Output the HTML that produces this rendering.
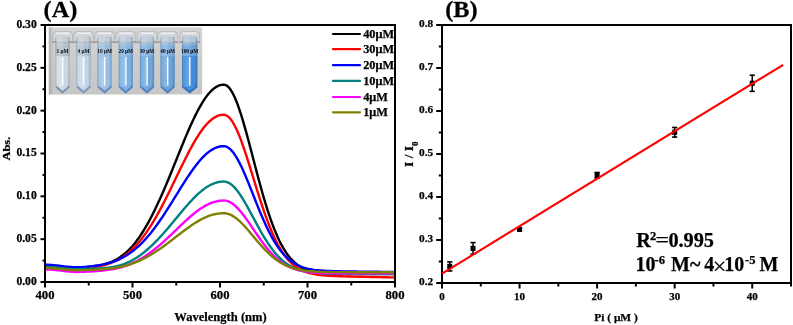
<!DOCTYPE html><html><head><meta charset="utf-8"><style>html,body{margin:0;padding:0;background:#fff;}svg{display:block;will-change:transform;}</style></head><body><svg width="793" height="325" viewBox="0 0 793 325"><rect width="793" height="325" fill="#fff"/><g><defs><linearGradient id="bg" x1="0" y1="0" x2="0" y2="1"><stop offset="0" stop-color="#d7d5d3"/><stop offset="0.5" stop-color="#cdcccb"/><stop offset="1" stop-color="#c6c6c7"/></linearGradient><linearGradient id="bgl" x1="0" y1="0" x2="1" y2="0"><stop offset="0" stop-color="#9a9a9a" stop-opacity="0.6"/><stop offset="1" stop-color="#9a9a9a" stop-opacity="0"/></linearGradient><linearGradient id="shade" x1="0" y1="0" x2="1" y2="0"><stop offset="0" stop-color="#203050" stop-opacity="0.28"/><stop offset="0.15" stop-color="#ffffff" stop-opacity="0.10"/><stop offset="0.45" stop-color="#ffffff" stop-opacity="0.12"/><stop offset="0.8" stop-color="#000000" stop-opacity="0.0"/><stop offset="1" stop-color="#203050" stop-opacity="0.25"/></linearGradient></defs><rect x="48.8" y="27.3" width="153.39999999999998" height="67.2" fill="url(#bg)"/><rect x="48.8" y="27.3" width="5" height="67.2" fill="url(#bgl)"/><linearGradient id="ug0" x1="0" y1="0" x2="0" y2="1"><stop offset="0" stop-color="#c9cdd1"/><stop offset="0.45" stop-color="#b6c5d1"/><stop offset="1" stop-color="#b6c5d1"/></linearGradient><rect x="55.5" y="38" width="14.2" height="19" fill="url(#ug0)"/><path d="M52.8,42.5 L52.8,34.5 Q52.8,31.6 56.1,31.6 L69.1,31.6 Q72.4,31.6 72.4,34.5 L72.4,42.5 Z" fill="#d3d7da" fill-opacity="0.85" stroke="#aab0b5" stroke-width="0.7"/><rect x="56.1" y="32.6" width="13" height="1.2" fill="#f4f6f8"/><rect x="56.0" y="36" width="13.2" height="6.5" fill="#b6c5d1" fill-opacity="0.25"/><path d="M52.1,42.8 L55.6,41.2 M73.1,42.8 L69.6,41.2" fill="none" stroke="#8a9095" stroke-width="1.1"/><path d="M55.5,56 L69.7,56 L69.7,86.5 L62.6,92.5 L55.5,86.5 Z" fill="#d0dce7"/><path d="M56.0,86.5 L62.6,92.3 L69.2,86.5" fill="none" stroke="#7f95ae" stroke-width="2"/><rect x="55.5" y="37" width="14.2" height="50" fill="url(#shade)"/><rect x="62.0" y="57" width="1.4" height="28.5" fill="#ffffff" opacity="0.95"/><rect x="59.1" y="59" width="3" height="0.5" fill="#ffffff" opacity="0.35"/><rect x="59.1" y="61" width="3" height="0.5" fill="#ffffff" opacity="0.35"/><rect x="59.1" y="63" width="3" height="0.5" fill="#ffffff" opacity="0.35"/><rect x="59.1" y="65" width="3" height="0.5" fill="#ffffff" opacity="0.35"/><rect x="59.1" y="67" width="3" height="0.5" fill="#ffffff" opacity="0.35"/><rect x="59.1" y="69" width="3" height="0.5" fill="#ffffff" opacity="0.35"/><rect x="59.1" y="71" width="3" height="0.5" fill="#ffffff" opacity="0.35"/><rect x="59.1" y="73" width="3" height="0.5" fill="#ffffff" opacity="0.35"/><rect x="59.1" y="75" width="3" height="0.5" fill="#ffffff" opacity="0.35"/><rect x="59.1" y="77" width="3" height="0.5" fill="#ffffff" opacity="0.35"/><rect x="59.1" y="79" width="3" height="0.5" fill="#ffffff" opacity="0.35"/><rect x="59.1" y="81" width="3" height="0.5" fill="#ffffff" opacity="0.35"/><rect x="59.1" y="83" width="3" height="0.5" fill="#ffffff" opacity="0.35"/><rect x="59.1" y="85" width="3" height="0.5" fill="#ffffff" opacity="0.35"/><text x="62.6" y="52.6" font-size="5.3" text-anchor="middle" font-family="Liberation Serif" font-weight="bold" fill="#0a0a0a">1 &#956;M</text><linearGradient id="ug1" x1="0" y1="0" x2="0" y2="1"><stop offset="0" stop-color="#c9cdd1"/><stop offset="0.45" stop-color="#b3c7d9"/><stop offset="1" stop-color="#b3c7d9"/></linearGradient><rect x="76.5" y="38" width="14.2" height="19" fill="url(#ug1)"/><path d="M73.8,42.5 L73.8,34.5 Q73.8,31.6 77.1,31.6 L90.1,31.6 Q93.39999999999999,31.6 93.39999999999999,34.5 L93.39999999999999,42.5 Z" fill="#d3d7da" fill-opacity="0.85" stroke="#aab0b5" stroke-width="0.7"/><rect x="77.1" y="32.6" width="13" height="1.2" fill="#f4f6f8"/><rect x="77.0" y="36" width="13.2" height="6.5" fill="#b3c7d9" fill-opacity="0.25"/><path d="M73.1,42.8 L76.6,41.2 M94.1,42.8 L90.6,41.2" fill="none" stroke="#8a9095" stroke-width="1.1"/><path d="M76.5,56 L90.69999999999999,56 L90.69999999999999,86.5 L83.6,92.5 L76.5,86.5 Z" fill="#c4d8ea"/><path d="M77.0,86.5 L83.6,92.3 L90.19999999999999,86.5" fill="none" stroke="#7d97b8" stroke-width="2"/><rect x="76.5" y="37" width="14.2" height="50" fill="url(#shade)"/><rect x="83.0" y="57" width="1.4" height="28.5" fill="#ffffff" opacity="0.95"/><rect x="80.1" y="59" width="3" height="0.5" fill="#ffffff" opacity="0.35"/><rect x="80.1" y="61" width="3" height="0.5" fill="#ffffff" opacity="0.35"/><rect x="80.1" y="63" width="3" height="0.5" fill="#ffffff" opacity="0.35"/><rect x="80.1" y="65" width="3" height="0.5" fill="#ffffff" opacity="0.35"/><rect x="80.1" y="67" width="3" height="0.5" fill="#ffffff" opacity="0.35"/><rect x="80.1" y="69" width="3" height="0.5" fill="#ffffff" opacity="0.35"/><rect x="80.1" y="71" width="3" height="0.5" fill="#ffffff" opacity="0.35"/><rect x="80.1" y="73" width="3" height="0.5" fill="#ffffff" opacity="0.35"/><rect x="80.1" y="75" width="3" height="0.5" fill="#ffffff" opacity="0.35"/><rect x="80.1" y="77" width="3" height="0.5" fill="#ffffff" opacity="0.35"/><rect x="80.1" y="79" width="3" height="0.5" fill="#ffffff" opacity="0.35"/><rect x="80.1" y="81" width="3" height="0.5" fill="#ffffff" opacity="0.35"/><rect x="80.1" y="83" width="3" height="0.5" fill="#ffffff" opacity="0.35"/><rect x="80.1" y="85" width="3" height="0.5" fill="#ffffff" opacity="0.35"/><text x="83.6" y="52.6" font-size="5.3" text-anchor="middle" font-family="Liberation Serif" font-weight="bold" fill="#0a0a0a">4 &#956;M</text><linearGradient id="ug2" x1="0" y1="0" x2="0" y2="1"><stop offset="0" stop-color="#c9cdd1"/><stop offset="0.45" stop-color="#9fbfe0"/><stop offset="1" stop-color="#9fbfe0"/></linearGradient><rect x="97.5" y="38" width="14.2" height="19" fill="url(#ug2)"/><path d="M94.8,42.5 L94.8,34.5 Q94.8,31.6 98.1,31.6 L111.1,31.6 Q114.39999999999999,31.6 114.39999999999999,34.5 L114.39999999999999,42.5 Z" fill="#d3d7da" fill-opacity="0.85" stroke="#aab0b5" stroke-width="0.7"/><rect x="98.1" y="32.6" width="13" height="1.2" fill="#f4f6f8"/><rect x="98.0" y="36" width="13.2" height="6.5" fill="#9fbfe0" fill-opacity="0.25"/><path d="M94.1,42.8 L97.6,41.2 M115.1,42.8 L111.6,41.2" fill="none" stroke="#8a9095" stroke-width="1.1"/><path d="M97.5,56 L111.69999999999999,56 L111.69999999999999,86.5 L104.6,92.5 L97.5,86.5 Z" fill="#9cc2e8"/><path d="M98.0,86.5 L104.6,92.3 L111.19999999999999,86.5" fill="none" stroke="#6a8cbc" stroke-width="2"/><rect x="97.5" y="37" width="14.2" height="50" fill="url(#shade)"/><rect x="104.0" y="57" width="1.4" height="28.5" fill="#ffffff" opacity="0.95"/><rect x="101.1" y="59" width="3" height="0.5" fill="#ffffff" opacity="0.35"/><rect x="101.1" y="61" width="3" height="0.5" fill="#ffffff" opacity="0.35"/><rect x="101.1" y="63" width="3" height="0.5" fill="#ffffff" opacity="0.35"/><rect x="101.1" y="65" width="3" height="0.5" fill="#ffffff" opacity="0.35"/><rect x="101.1" y="67" width="3" height="0.5" fill="#ffffff" opacity="0.35"/><rect x="101.1" y="69" width="3" height="0.5" fill="#ffffff" opacity="0.35"/><rect x="101.1" y="71" width="3" height="0.5" fill="#ffffff" opacity="0.35"/><rect x="101.1" y="73" width="3" height="0.5" fill="#ffffff" opacity="0.35"/><rect x="101.1" y="75" width="3" height="0.5" fill="#ffffff" opacity="0.35"/><rect x="101.1" y="77" width="3" height="0.5" fill="#ffffff" opacity="0.35"/><rect x="101.1" y="79" width="3" height="0.5" fill="#ffffff" opacity="0.35"/><rect x="101.1" y="81" width="3" height="0.5" fill="#ffffff" opacity="0.35"/><rect x="101.1" y="83" width="3" height="0.5" fill="#ffffff" opacity="0.35"/><rect x="101.1" y="85" width="3" height="0.5" fill="#ffffff" opacity="0.35"/><text x="104.6" y="52.6" font-size="5.3" text-anchor="middle" font-family="Liberation Serif" font-weight="bold" fill="#0a0a0a">10 &#956;M</text><linearGradient id="ug3" x1="0" y1="0" x2="0" y2="1"><stop offset="0" stop-color="#c9cdd1"/><stop offset="0.45" stop-color="#8cb8e3"/><stop offset="1" stop-color="#8cb8e3"/></linearGradient><rect x="118.7" y="38" width="14.2" height="19" fill="url(#ug3)"/><path d="M116.0,42.5 L116.0,34.5 Q116.0,31.6 119.3,31.6 L132.3,31.6 Q135.6,31.6 135.6,34.5 L135.6,42.5 Z" fill="#d3d7da" fill-opacity="0.85" stroke="#aab0b5" stroke-width="0.7"/><rect x="119.3" y="32.6" width="13" height="1.2" fill="#f4f6f8"/><rect x="119.2" y="36" width="13.2" height="6.5" fill="#8cb8e3" fill-opacity="0.25"/><path d="M115.3,42.8 L118.8,41.2 M136.3,42.8 L132.8,41.2" fill="none" stroke="#8a9095" stroke-width="1.1"/><path d="M118.7,56 L132.9,56 L132.9,86.5 L125.8,92.5 L118.7,86.5 Z" fill="#7cb2e4"/><path d="M119.2,86.5 L125.8,92.3 L132.4,86.5" fill="none" stroke="#5a88c4" stroke-width="2"/><rect x="118.7" y="37" width="14.2" height="50" fill="url(#shade)"/><rect x="125.2" y="57" width="1.4" height="28.5" fill="#ffffff" opacity="0.95"/><rect x="122.3" y="59" width="3" height="0.5" fill="#ffffff" opacity="0.35"/><rect x="122.3" y="61" width="3" height="0.5" fill="#ffffff" opacity="0.35"/><rect x="122.3" y="63" width="3" height="0.5" fill="#ffffff" opacity="0.35"/><rect x="122.3" y="65" width="3" height="0.5" fill="#ffffff" opacity="0.35"/><rect x="122.3" y="67" width="3" height="0.5" fill="#ffffff" opacity="0.35"/><rect x="122.3" y="69" width="3" height="0.5" fill="#ffffff" opacity="0.35"/><rect x="122.3" y="71" width="3" height="0.5" fill="#ffffff" opacity="0.35"/><rect x="122.3" y="73" width="3" height="0.5" fill="#ffffff" opacity="0.35"/><rect x="122.3" y="75" width="3" height="0.5" fill="#ffffff" opacity="0.35"/><rect x="122.3" y="77" width="3" height="0.5" fill="#ffffff" opacity="0.35"/><rect x="122.3" y="79" width="3" height="0.5" fill="#ffffff" opacity="0.35"/><rect x="122.3" y="81" width="3" height="0.5" fill="#ffffff" opacity="0.35"/><rect x="122.3" y="83" width="3" height="0.5" fill="#ffffff" opacity="0.35"/><rect x="122.3" y="85" width="3" height="0.5" fill="#ffffff" opacity="0.35"/><text x="125.8" y="52.6" font-size="5.3" text-anchor="middle" font-family="Liberation Serif" font-weight="bold" fill="#0a0a0a">20 &#956;M</text><linearGradient id="ug4" x1="0" y1="0" x2="0" y2="1"><stop offset="0" stop-color="#c9cdd1"/><stop offset="0.45" stop-color="#88b5e2"/><stop offset="1" stop-color="#88b5e2"/></linearGradient><rect x="139.9" y="38" width="14.2" height="19" fill="url(#ug4)"/><path d="M137.2,42.5 L137.2,34.5 Q137.2,31.6 140.5,31.6 L153.5,31.6 Q156.8,31.6 156.8,34.5 L156.8,42.5 Z" fill="#d3d7da" fill-opacity="0.85" stroke="#aab0b5" stroke-width="0.7"/><rect x="140.5" y="32.6" width="13" height="1.2" fill="#f4f6f8"/><rect x="140.4" y="36" width="13.2" height="6.5" fill="#88b5e2" fill-opacity="0.25"/><path d="M136.5,42.8 L140.0,41.2 M157.5,42.8 L154.0,41.2" fill="none" stroke="#8a9095" stroke-width="1.1"/><path d="M139.9,56 L154.1,56 L154.1,86.5 L147.0,92.5 L139.9,86.5 Z" fill="#70a9de"/><path d="M140.4,86.5 L147.0,92.3 L153.6,86.5" fill="none" stroke="#5684c2" stroke-width="2"/><rect x="139.9" y="37" width="14.2" height="50" fill="url(#shade)"/><rect x="146.4" y="57" width="1.4" height="28.5" fill="#ffffff" opacity="0.95"/><rect x="143.5" y="59" width="3" height="0.5" fill="#ffffff" opacity="0.35"/><rect x="143.5" y="61" width="3" height="0.5" fill="#ffffff" opacity="0.35"/><rect x="143.5" y="63" width="3" height="0.5" fill="#ffffff" opacity="0.35"/><rect x="143.5" y="65" width="3" height="0.5" fill="#ffffff" opacity="0.35"/><rect x="143.5" y="67" width="3" height="0.5" fill="#ffffff" opacity="0.35"/><rect x="143.5" y="69" width="3" height="0.5" fill="#ffffff" opacity="0.35"/><rect x="143.5" y="71" width="3" height="0.5" fill="#ffffff" opacity="0.35"/><rect x="143.5" y="73" width="3" height="0.5" fill="#ffffff" opacity="0.35"/><rect x="143.5" y="75" width="3" height="0.5" fill="#ffffff" opacity="0.35"/><rect x="143.5" y="77" width="3" height="0.5" fill="#ffffff" opacity="0.35"/><rect x="143.5" y="79" width="3" height="0.5" fill="#ffffff" opacity="0.35"/><rect x="143.5" y="81" width="3" height="0.5" fill="#ffffff" opacity="0.35"/><rect x="143.5" y="83" width="3" height="0.5" fill="#ffffff" opacity="0.35"/><rect x="143.5" y="85" width="3" height="0.5" fill="#ffffff" opacity="0.35"/><text x="147.0" y="52.6" font-size="5.3" text-anchor="middle" font-family="Liberation Serif" font-weight="bold" fill="#0a0a0a">30 &#956;M</text><linearGradient id="ug5" x1="0" y1="0" x2="0" y2="1"><stop offset="0" stop-color="#c9cdd1"/><stop offset="0.45" stop-color="#84b2e2"/><stop offset="1" stop-color="#84b2e2"/></linearGradient><rect x="160.5" y="38" width="14.2" height="19" fill="url(#ug5)"/><path d="M157.79999999999998,42.5 L157.79999999999998,34.5 Q157.79999999999998,31.6 161.1,31.6 L174.1,31.6 Q177.4,31.6 177.4,34.5 L177.4,42.5 Z" fill="#d3d7da" fill-opacity="0.85" stroke="#aab0b5" stroke-width="0.7"/><rect x="161.1" y="32.6" width="13" height="1.2" fill="#f4f6f8"/><rect x="161.0" y="36" width="13.2" height="6.5" fill="#84b2e2" fill-opacity="0.25"/><path d="M157.1,42.8 L160.6,41.2 M178.1,42.8 L174.6,41.2" fill="none" stroke="#8a9095" stroke-width="1.1"/><path d="M160.5,56 L174.7,56 L174.7,86.5 L167.6,92.5 L160.5,86.5 Z" fill="#6ba5dc"/><path d="M161.0,86.5 L167.6,92.3 L174.2,86.5" fill="none" stroke="#5482c2" stroke-width="2"/><rect x="160.5" y="37" width="14.2" height="50" fill="url(#shade)"/><rect x="167.0" y="57" width="1.4" height="28.5" fill="#ffffff" opacity="0.95"/><rect x="164.1" y="59" width="3" height="0.5" fill="#ffffff" opacity="0.35"/><rect x="164.1" y="61" width="3" height="0.5" fill="#ffffff" opacity="0.35"/><rect x="164.1" y="63" width="3" height="0.5" fill="#ffffff" opacity="0.35"/><rect x="164.1" y="65" width="3" height="0.5" fill="#ffffff" opacity="0.35"/><rect x="164.1" y="67" width="3" height="0.5" fill="#ffffff" opacity="0.35"/><rect x="164.1" y="69" width="3" height="0.5" fill="#ffffff" opacity="0.35"/><rect x="164.1" y="71" width="3" height="0.5" fill="#ffffff" opacity="0.35"/><rect x="164.1" y="73" width="3" height="0.5" fill="#ffffff" opacity="0.35"/><rect x="164.1" y="75" width="3" height="0.5" fill="#ffffff" opacity="0.35"/><rect x="164.1" y="77" width="3" height="0.5" fill="#ffffff" opacity="0.35"/><rect x="164.1" y="79" width="3" height="0.5" fill="#ffffff" opacity="0.35"/><rect x="164.1" y="81" width="3" height="0.5" fill="#ffffff" opacity="0.35"/><rect x="164.1" y="83" width="3" height="0.5" fill="#ffffff" opacity="0.35"/><rect x="164.1" y="85" width="3" height="0.5" fill="#ffffff" opacity="0.35"/><text x="167.6" y="52.6" font-size="5.3" text-anchor="middle" font-family="Liberation Serif" font-weight="bold" fill="#0a0a0a">40 &#956;M</text><linearGradient id="ug6" x1="0" y1="0" x2="0" y2="1"><stop offset="0" stop-color="#c9cdd1"/><stop offset="0.45" stop-color="#6ca4dc"/><stop offset="1" stop-color="#6ca4dc"/></linearGradient><rect x="182.0" y="38" width="15.4" height="19" fill="url(#ug6)"/><path d="M179.89999999999998,42.5 L179.89999999999998,34.5 Q179.89999999999998,31.6 183.2,31.6 L196.2,31.6 Q199.5,31.6 199.5,34.5 L199.5,42.5 Z" fill="#d3d7da" fill-opacity="0.85" stroke="#aab0b5" stroke-width="0.7"/><rect x="183.2" y="32.6" width="13" height="1.2" fill="#f4f6f8"/><rect x="182.5" y="36" width="14.4" height="6.5" fill="#6ca4dc" fill-opacity="0.25"/><path d="M179.2,42.8 L182.7,41.2 M200.2,42.8 L196.7,41.2" fill="none" stroke="#8a9095" stroke-width="1.1"/><path d="M182.0,56 L197.39999999999998,56 L197.39999999999998,86.5 L189.7,92.5 L182.0,86.5 Z" fill="#448edb"/><path d="M182.5,86.5 L189.7,92.3 L196.89999999999998,86.5" fill="none" stroke="#3570bf" stroke-width="2"/><rect x="182.0" y="37" width="15.4" height="50" fill="url(#shade)"/><rect x="189.1" y="57" width="1.4" height="28.5" fill="#ffffff" opacity="0.95"/><rect x="186.2" y="59" width="3" height="0.5" fill="#ffffff" opacity="0.35"/><rect x="186.2" y="61" width="3" height="0.5" fill="#ffffff" opacity="0.35"/><rect x="186.2" y="63" width="3" height="0.5" fill="#ffffff" opacity="0.35"/><rect x="186.2" y="65" width="3" height="0.5" fill="#ffffff" opacity="0.35"/><rect x="186.2" y="67" width="3" height="0.5" fill="#ffffff" opacity="0.35"/><rect x="186.2" y="69" width="3" height="0.5" fill="#ffffff" opacity="0.35"/><rect x="186.2" y="71" width="3" height="0.5" fill="#ffffff" opacity="0.35"/><rect x="186.2" y="73" width="3" height="0.5" fill="#ffffff" opacity="0.35"/><rect x="186.2" y="75" width="3" height="0.5" fill="#ffffff" opacity="0.35"/><rect x="186.2" y="77" width="3" height="0.5" fill="#ffffff" opacity="0.35"/><rect x="186.2" y="79" width="3" height="0.5" fill="#ffffff" opacity="0.35"/><rect x="186.2" y="81" width="3" height="0.5" fill="#ffffff" opacity="0.35"/><rect x="186.2" y="83" width="3" height="0.5" fill="#ffffff" opacity="0.35"/><rect x="186.2" y="85" width="3" height="0.5" fill="#ffffff" opacity="0.35"/><text x="189.7" y="52.6" font-size="5.3" text-anchor="middle" font-family="Liberation Serif" font-weight="bold" fill="#0a0a0a">100 &#956;M</text></g><path d="M45.00,265.30 L46.75,265.31 L48.50,265.38 L50.25,265.48 L52.00,265.63 L53.75,265.80 L55.50,266.00 L57.25,266.21 L59.00,266.44 L60.75,266.67 L62.50,266.90 L64.25,267.13 L66.00,267.34 L67.75,267.53 L69.50,267.70 L71.25,267.83 L73.00,267.93 L74.75,267.98 L76.50,267.97 L78.25,267.91 L80.00,267.78 L81.75,267.61 L83.50,267.45 L85.25,267.29 L87.00,267.11 L88.75,266.93 L90.50,266.74 L92.25,266.52 L94.00,266.29 L95.75,266.03 L97.50,265.74 L99.25,265.42 L101.00,265.05 L102.75,264.65 L104.50,264.19 L106.25,263.68 L108.00,263.11 L109.75,262.48 L111.50,261.78 L113.25,261.00 L115.00,260.14 L116.75,259.20 L118.50,258.17 L120.25,257.04 L122.00,255.81 L123.75,254.47 L125.50,253.02 L127.25,251.45 L129.00,249.76 L130.75,247.94 L132.50,246.00 L134.25,243.91 L136.00,241.69 L137.75,239.33 L139.50,236.85 L141.25,234.24 L143.00,231.51 L144.75,228.66 L146.50,225.68 L148.25,222.58 L150.00,219.37 L151.75,216.03 L153.50,212.58 L155.25,209.02 L157.00,205.35 L158.75,201.58 L160.50,197.71 L162.25,193.76 L164.00,189.72 L165.75,185.61 L167.50,181.44 L169.25,177.21 L171.00,172.93 L172.75,168.62 L174.50,164.29 L176.25,159.94 L178.00,155.60 L179.75,151.27 L181.50,146.96 L183.25,142.70 L185.00,138.49 L186.75,134.35 L188.50,130.29 L190.25,126.32 L192.00,122.47 L193.75,118.74 L195.50,115.14 L197.25,111.69 L199.00,108.41 L200.75,105.30 L202.50,102.37 L204.25,99.65 L206.00,97.12 L207.75,94.81 L209.50,92.73 L211.25,90.87 L213.00,89.25 L214.75,87.87 L216.50,86.74 L218.25,85.85 L220.00,85.20 L221.75,84.80 L223.50,84.64 L225.25,84.85 L227.00,85.74 L228.75,87.30 L230.50,89.52 L232.25,92.34 L234.00,95.76 L235.75,99.71 L237.50,104.17 L239.25,109.09 L241.00,114.42 L242.75,120.10 L244.50,126.09 L246.25,132.33 L248.00,138.77 L249.75,145.35 L251.50,152.02 L253.25,158.74 L255.00,165.46 L256.75,172.13 L258.50,178.71 L260.25,185.16 L262.00,191.45 L263.75,197.56 L265.50,203.44 L267.25,209.09 L269.00,214.49 L270.75,219.61 L272.50,224.46 L274.25,229.03 L276.00,233.31 L277.75,237.30 L279.50,241.01 L281.25,244.44 L283.00,247.60 L284.75,250.49 L286.50,253.14 L288.25,255.55 L290.00,257.73 L291.75,259.70 L293.50,261.47 L295.25,263.05 L297.00,264.47 L298.75,265.72 L300.50,266.84 L302.25,267.82 L304.00,268.68 L305.75,269.43 L307.50,270.09 L309.25,270.66 L311.00,271.16 L312.75,271.59 L314.50,271.96 L316.25,272.27 L318.00,272.54 L319.75,272.77 L321.50,272.97 L323.25,273.14 L325.00,273.28 L326.75,273.39 L328.50,273.49 L330.25,273.58 L332.00,273.65 L333.75,273.71 L335.50,273.76 L337.25,273.80 L339.00,273.83 L340.75,273.86 L342.50,273.89 L344.25,273.91 L346.00,273.93 L347.75,273.94 L349.50,273.95 L351.25,273.97 L353.00,273.98 L354.75,273.99 L356.50,273.99 L358.25,274.00 L360.00,274.01 L361.75,274.02 L363.50,274.02 L365.25,274.03 L367.00,274.03 L368.75,274.04 L370.50,274.05 L372.25,274.05 L374.00,274.06 L375.75,274.06 L377.50,274.07 L379.25,274.07 L381.00,274.08 L382.75,274.08 L384.50,274.09 L386.25,274.09 L388.00,274.10 L389.75,274.10 L391.50,274.11 L393.25,274.11 L395.00,274.12" fill="none" stroke="#000000" stroke-width="2.4" stroke-linejoin="round"/><path d="M45.00,265.72 L46.75,265.77 L48.50,265.85 L50.25,265.97 L52.00,266.11 L53.75,266.28 L55.50,266.47 L57.25,266.67 L59.00,266.88 L60.75,267.10 L62.50,267.31 L64.25,267.52 L66.00,267.72 L67.75,267.91 L69.50,268.07 L71.25,268.20 L73.00,268.31 L74.75,268.37 L76.50,268.40 L78.25,268.37 L80.00,268.29 L81.75,268.18 L83.50,268.06 L85.25,267.93 L87.00,267.78 L88.75,267.62 L90.50,267.44 L92.25,267.23 L94.00,267.01 L95.75,266.75 L97.50,266.47 L99.25,266.15 L101.00,265.80 L102.75,265.41 L104.50,264.97 L106.25,264.49 L108.00,263.95 L109.75,263.37 L111.50,262.72 L113.25,262.01 L115.00,261.24 L116.75,260.40 L118.50,259.48 L120.25,258.49 L122.00,257.41 L123.75,256.25 L125.50,255.01 L127.25,253.67 L129.00,252.23 L130.75,250.69 L132.50,249.06 L134.25,247.31 L136.00,245.47 L137.75,243.51 L139.50,241.45 L141.25,239.28 L143.00,237.02 L144.75,234.64 L146.50,232.17 L148.25,229.59 L150.00,226.91 L151.75,224.13 L153.50,221.26 L155.25,218.29 L157.00,215.23 L158.75,212.09 L160.50,208.87 L162.25,205.57 L164.00,202.20 L165.75,198.77 L167.50,195.28 L169.25,191.75 L171.00,188.18 L172.75,184.58 L174.50,180.97 L176.25,177.34 L178.00,173.71 L179.75,170.09 L181.50,166.50 L183.25,162.94 L185.00,159.43 L186.75,155.97 L188.50,152.58 L190.25,149.28 L192.00,146.06 L193.75,142.95 L195.50,139.95 L197.25,137.08 L199.00,134.35 L200.75,131.76 L202.50,129.33 L204.25,127.06 L206.00,124.97 L207.75,123.05 L209.50,121.33 L211.25,119.80 L213.00,118.46 L214.75,117.33 L216.50,116.41 L218.25,115.69 L220.00,115.18 L221.75,114.88 L223.50,114.77 L225.25,114.97 L227.00,115.76 L228.75,117.11 L230.50,119.00 L232.25,121.42 L234.00,124.32 L235.75,127.69 L237.50,131.48 L239.25,135.65 L241.00,140.17 L242.75,144.98 L244.50,150.06 L246.25,155.35 L248.00,160.80 L249.75,166.38 L251.50,172.03 L253.25,177.72 L255.00,183.41 L256.75,189.06 L258.50,194.63 L260.25,200.10 L262.00,205.43 L263.75,210.60 L265.50,215.59 L267.25,220.38 L269.00,224.96 L270.75,229.31 L272.50,233.42 L274.25,237.30 L276.00,240.93 L277.75,244.33 L279.50,247.48 L281.25,250.40 L283.00,253.09 L284.75,255.57 L286.50,257.83 L288.25,259.89 L290.00,261.76 L291.75,263.45 L293.50,264.97 L295.25,266.34 L297.00,267.56 L298.75,268.65 L300.50,269.62 L302.25,270.47 L304.00,271.23 L305.75,271.90 L307.50,272.49 L309.25,273.00 L311.00,273.45 L312.75,273.84 L314.50,274.18 L316.25,274.48 L318.00,274.74 L319.75,274.97 L321.50,275.16 L323.25,275.33 L325.00,275.48 L326.75,275.62 L328.50,275.73 L330.25,275.83 L332.00,275.92 L333.75,276.01 L335.50,276.08 L337.25,276.15 L339.00,276.21 L340.75,276.26 L342.50,276.31 L344.25,276.36 L346.00,276.41 L347.75,276.46 L349.50,276.50 L351.25,276.54 L353.00,276.58 L354.75,276.62 L356.50,276.66 L358.25,276.70 L360.00,276.73 L361.75,276.77 L363.50,276.81 L365.25,276.85 L367.00,276.88 L368.75,276.92 L370.50,276.95 L372.25,276.99 L374.00,277.03 L375.75,277.06 L377.50,277.10 L379.25,277.14 L381.00,277.17 L382.75,277.21 L384.50,277.24 L386.25,277.28 L388.00,277.32 L389.75,277.35 L391.50,277.39 L393.25,277.42 L395.00,277.46" fill="none" stroke="#ff0000" stroke-width="2.4" stroke-linejoin="round"/><path d="M45.00,264.70 L46.75,264.73 L48.50,264.80 L50.25,264.90 L52.00,265.03 L53.75,265.19 L55.50,265.37 L57.25,265.56 L59.00,265.76 L60.75,265.97 L62.50,266.18 L64.25,266.38 L66.00,266.57 L67.75,266.75 L69.50,266.92 L71.25,267.05 L73.00,267.16 L74.75,267.23 L76.50,267.26 L78.25,267.25 L80.00,267.18 L81.75,267.08 L83.50,266.97 L85.25,266.85 L87.00,266.71 L88.75,266.56 L90.50,266.40 L92.25,266.21 L94.00,266.00 L95.75,265.77 L97.50,265.51 L99.25,265.23 L101.00,264.92 L102.75,264.57 L104.50,264.19 L106.25,263.77 L108.00,263.32 L109.75,262.82 L111.50,262.28 L113.25,261.68 L115.00,261.04 L116.75,260.35 L118.50,259.60 L120.25,258.79 L122.00,257.91 L123.75,256.98 L125.50,255.98 L127.25,254.90 L129.00,253.76 L130.75,252.54 L132.50,251.24 L134.25,249.87 L136.00,248.42 L137.75,246.88 L139.50,245.27 L141.25,243.58 L143.00,241.80 L144.75,239.94 L146.50,238.01 L148.25,235.99 L150.00,233.90 L151.75,231.72 L153.50,229.48 L155.25,227.15 L157.00,224.76 L158.75,222.31 L160.50,219.79 L162.25,217.21 L164.00,214.58 L165.75,211.90 L167.50,209.17 L169.25,206.41 L171.00,203.62 L172.75,200.81 L174.50,197.98 L176.25,195.15 L178.00,192.32 L179.75,189.49 L181.50,186.68 L183.25,183.90 L185.00,181.16 L186.75,178.45 L188.50,175.81 L190.25,173.22 L192.00,170.71 L193.75,168.28 L195.50,165.93 L197.25,163.69 L199.00,161.55 L200.75,159.52 L202.50,157.62 L204.25,155.85 L206.00,154.21 L207.75,152.71 L209.50,151.35 L211.25,150.15 L213.00,149.11 L214.75,148.22 L216.50,147.49 L218.25,146.92 L220.00,146.51 L221.75,146.27 L223.50,146.17 L225.25,146.32 L227.00,146.93 L228.75,147.97 L230.50,149.43 L232.25,151.31 L234.00,153.56 L235.75,156.17 L237.50,159.11 L239.25,162.35 L241.00,165.86 L242.75,169.60 L244.50,173.55 L246.25,177.66 L248.00,181.89 L249.75,186.23 L251.50,190.62 L253.25,195.04 L255.00,199.47 L256.75,203.86 L258.50,208.19 L260.25,212.43 L262.00,216.58 L263.75,220.60 L265.50,224.47 L267.25,228.19 L269.00,231.75 L270.75,235.13 L272.50,238.32 L274.25,241.33 L276.00,244.15 L277.75,246.79 L279.50,249.24 L281.25,251.50 L283.00,253.59 L284.75,255.51 L286.50,257.26 L288.25,258.85 L290.00,260.30 L291.75,261.60 L293.50,262.78 L295.25,263.84 L297.00,264.78 L298.75,265.62 L300.50,266.36 L302.25,267.02 L304.00,267.60 L305.75,268.11 L307.50,268.56 L309.25,268.95 L311.00,269.29 L312.75,269.59 L314.50,269.85 L316.25,270.07 L318.00,270.26 L319.75,270.43 L321.50,270.57 L323.25,270.70 L325.00,270.81 L326.75,270.90 L328.50,270.98 L330.25,271.05 L332.00,271.11 L333.75,271.17 L335.50,271.21 L337.25,271.26 L339.00,271.29 L340.75,271.33 L342.50,271.36 L344.25,271.39 L346.00,271.42 L347.75,271.44 L349.50,271.47 L351.25,271.49 L353.00,271.51 L354.75,271.53 L356.50,271.55 L358.25,271.58 L360.00,271.60 L361.75,271.62 L363.50,271.64 L365.25,271.65 L367.00,271.67 L368.75,271.69 L370.50,271.71 L372.25,271.73 L374.00,271.75 L375.75,271.77 L377.50,271.79 L379.25,271.81 L381.00,271.83 L382.75,271.84 L384.50,271.86 L386.25,271.88 L388.00,271.90 L389.75,271.92 L391.50,271.94 L393.25,271.96 L395.00,271.98" fill="none" stroke="#0000ff" stroke-width="2.4" stroke-linejoin="round"/><path d="M45.00,267.01 L46.75,267.02 L48.50,267.07 L50.25,267.16 L52.00,267.27 L53.75,267.40 L55.50,267.55 L57.25,267.72 L59.00,267.89 L60.75,268.07 L62.50,268.26 L64.25,268.44 L66.00,268.61 L67.75,268.77 L69.50,268.91 L71.25,269.03 L73.00,269.13 L74.75,269.19 L76.50,269.22 L78.25,269.21 L80.00,269.15 L81.75,269.07 L83.50,269.01 L85.25,268.95 L87.00,268.89 L88.75,268.84 L90.50,268.79 L92.25,268.73 L94.00,268.67 L95.75,268.61 L97.50,268.53 L99.25,268.44 L101.00,268.33 L102.75,268.20 L104.50,268.06 L106.25,267.88 L108.00,267.68 L109.75,267.45 L111.50,267.19 L113.25,266.88 L115.00,266.54 L116.75,266.15 L118.50,265.72 L120.25,265.23 L122.00,264.69 L123.75,264.10 L125.50,263.44 L127.25,262.72 L129.00,261.94 L130.75,261.09 L132.50,260.16 L134.25,259.16 L136.00,258.09 L137.75,256.94 L139.50,255.73 L141.25,254.46 L143.00,253.13 L144.75,251.74 L146.50,250.28 L148.25,248.77 L150.00,247.21 L151.75,245.58 L153.50,243.90 L155.25,242.16 L157.00,240.37 L158.75,238.53 L160.50,236.65 L162.25,234.72 L164.00,232.75 L165.75,230.75 L167.50,228.71 L169.25,226.65 L171.00,224.57 L172.75,222.47 L174.50,220.35 L176.25,218.24 L178.00,216.12 L179.75,214.01 L181.50,211.91 L183.25,209.83 L185.00,207.78 L186.75,205.76 L188.50,203.78 L190.25,201.85 L192.00,199.97 L193.75,198.15 L195.50,196.40 L197.25,194.71 L199.00,193.11 L200.75,191.60 L202.50,190.17 L204.25,188.84 L206.00,187.61 L207.75,186.48 L209.50,185.47 L211.25,184.56 L213.00,183.77 L214.75,183.10 L216.50,182.54 L218.25,182.11 L220.00,181.79 L221.75,181.60 L223.50,181.52 L225.25,181.62 L227.00,182.05 L228.75,182.82 L230.50,183.89 L232.25,185.27 L234.00,186.93 L235.75,188.86 L237.50,191.03 L239.25,193.43 L241.00,196.02 L242.75,198.79 L244.50,201.71 L246.25,204.75 L248.00,207.88 L249.75,211.09 L251.50,214.34 L253.25,217.62 L255.00,220.89 L256.75,224.14 L258.50,227.34 L260.25,230.49 L262.00,233.55 L263.75,236.53 L265.50,239.39 L267.25,242.15 L269.00,244.77 L270.75,247.27 L272.50,249.63 L274.25,251.86 L276.00,253.94 L277.75,255.89 L279.50,257.69 L281.25,259.36 L283.00,260.90 L284.75,262.31 L286.50,263.60 L288.25,264.77 L290.00,265.84 L291.75,266.80 L293.50,267.66 L295.25,268.43 L297.00,269.12 L298.75,269.73 L300.50,270.27 L302.25,270.75 L304.00,271.17 L305.75,271.53 L307.50,271.85 L309.25,272.13 L311.00,272.37 L312.75,272.58 L314.50,272.76 L316.25,272.91 L318.00,273.04 L319.75,273.15 L321.50,273.25 L323.25,273.33 L325.00,273.40 L326.75,273.45 L328.50,273.50 L330.25,273.54 L332.00,273.58 L333.75,273.60 L335.50,273.63 L337.25,273.65 L339.00,273.66 L340.75,273.68 L342.50,273.69 L344.25,273.70 L346.00,273.70 L347.75,273.71 L349.50,273.72 L351.25,273.72 L353.00,273.73 L354.75,273.73 L356.50,273.73 L358.25,273.74 L360.00,273.74 L361.75,273.74 L363.50,273.74 L365.25,273.75 L367.00,273.75 L368.75,273.75 L370.50,273.75 L372.25,273.75 L374.00,273.76 L375.75,273.76 L377.50,273.76 L379.25,273.76 L381.00,273.76 L382.75,273.76 L384.50,273.77 L386.25,273.77 L388.00,273.77 L389.75,273.77 L391.50,273.77 L393.25,273.77 L395.00,273.78" fill="none" stroke="#008080" stroke-width="2.4" stroke-linejoin="round"/><path d="M45.00,269.49 L46.75,269.51 L48.50,269.56 L50.25,269.64 L52.00,269.76 L53.75,269.90 L55.50,270.06 L57.25,270.24 L59.00,270.43 L60.75,270.63 L62.50,270.83 L64.25,271.03 L66.00,271.22 L67.75,271.40 L69.50,271.56 L71.25,271.70 L73.00,271.81 L74.75,271.89 L76.50,271.93 L78.25,271.94 L80.00,271.89 L81.75,271.82 L83.50,271.75 L85.25,271.68 L87.00,271.60 L88.75,271.52 L90.50,271.44 L92.25,271.35 L94.00,271.24 L95.75,271.13 L97.50,271.01 L99.25,270.87 L101.00,270.72 L102.75,270.54 L104.50,270.35 L106.25,270.14 L108.00,269.91 L109.75,269.65 L111.50,269.37 L113.25,269.05 L115.00,268.71 L116.75,268.33 L118.50,267.92 L120.25,267.47 L122.00,266.98 L123.75,266.45 L125.50,265.88 L127.25,265.26 L129.00,264.60 L130.75,263.89 L132.50,263.13 L134.25,262.32 L136.00,261.45 L137.75,260.54 L139.50,259.57 L141.25,258.56 L143.00,257.50 L144.75,256.39 L146.50,255.24 L148.25,254.04 L150.00,252.79 L151.75,251.49 L153.50,250.16 L155.25,248.77 L157.00,247.35 L158.75,245.89 L160.50,244.39 L162.25,242.86 L164.00,241.30 L165.75,239.70 L167.50,238.08 L169.25,236.45 L171.00,234.79 L172.75,233.12 L174.50,231.44 L176.25,229.76 L178.00,228.07 L179.75,226.39 L181.50,224.73 L183.25,223.07 L185.00,221.44 L186.75,219.84 L188.50,218.26 L190.25,216.73 L192.00,215.23 L193.75,213.79 L195.50,212.39 L197.25,211.06 L199.00,209.78 L200.75,208.58 L202.50,207.44 L204.25,206.38 L206.00,205.40 L207.75,204.50 L209.50,203.69 L211.25,202.97 L213.00,202.34 L214.75,201.80 L216.50,201.36 L218.25,201.01 L220.00,200.75 L221.75,200.59 L223.50,200.53 L225.25,200.60 L227.00,200.94 L228.75,201.54 L230.50,202.39 L232.25,203.48 L234.00,204.79 L235.75,206.31 L237.50,208.03 L239.25,209.92 L241.00,211.97 L242.75,214.16 L244.50,216.47 L246.25,218.87 L248.00,221.35 L249.75,223.89 L251.50,226.46 L253.25,229.05 L255.00,231.64 L256.75,234.21 L258.50,236.75 L260.25,239.24 L262.00,241.66 L263.75,244.01 L265.50,246.28 L267.25,248.46 L269.00,250.54 L270.75,252.51 L272.50,254.38 L274.25,256.14 L276.00,257.78 L277.75,259.32 L279.50,260.75 L281.25,262.06 L283.00,263.28 L284.75,264.39 L286.50,265.41 L288.25,266.33 L290.00,267.17 L291.75,267.93 L293.50,268.60 L295.25,269.21 L297.00,269.75 L298.75,270.23 L300.50,270.66 L302.25,271.03 L304.00,271.36 L305.75,271.64 L307.50,271.89 L309.25,272.11 L311.00,272.29 L312.75,272.45 L314.50,272.59 L316.25,272.71 L318.00,272.81 L319.75,272.89 L321.50,272.96 L323.25,273.02 L325.00,273.07 L326.75,273.11 L328.50,273.14 L330.25,273.17 L332.00,273.19 L333.75,273.21 L335.50,273.22 L337.25,273.23 L339.00,273.24 L340.75,273.25 L342.50,273.25 L344.25,273.25 L346.00,273.25 L347.75,273.25 L349.50,273.25 L351.25,273.25 L353.00,273.25 L354.75,273.25 L356.50,273.25 L358.25,273.24 L360.00,273.24 L361.75,273.24 L363.50,273.24 L365.25,273.23 L367.00,273.23 L368.75,273.23 L370.50,273.22 L372.25,273.22 L374.00,273.22 L375.75,273.21 L377.50,273.21 L379.25,273.21 L381.00,273.20 L382.75,273.20 L384.50,273.20 L386.25,273.19 L388.00,273.19 L389.75,273.19 L391.50,273.18 L393.25,273.18 L395.00,273.18" fill="none" stroke="#ff00ff" stroke-width="2.4" stroke-linejoin="round"/><path d="M45.00,268.04 L46.75,268.05 L48.50,268.10 L50.25,268.18 L52.00,268.28 L53.75,268.41 L55.50,268.55 L57.25,268.71 L59.00,268.87 L60.75,269.05 L62.50,269.22 L64.25,269.39 L66.00,269.56 L67.75,269.71 L69.50,269.86 L71.25,269.98 L73.00,270.08 L74.75,270.16 L76.50,270.20 L78.25,270.21 L80.00,270.18 L81.75,270.13 L83.50,270.08 L85.25,270.03 L87.00,269.97 L88.75,269.92 L90.50,269.86 L92.25,269.79 L94.00,269.72 L95.75,269.65 L97.50,269.56 L99.25,269.46 L101.00,269.35 L102.75,269.23 L104.50,269.09 L106.25,268.93 L108.00,268.76 L109.75,268.56 L111.50,268.35 L113.25,268.11 L115.00,267.84 L116.75,267.55 L118.50,267.23 L120.25,266.88 L122.00,266.50 L123.75,266.09 L125.50,265.64 L127.25,265.15 L129.00,264.63 L130.75,264.06 L132.50,263.46 L134.25,262.81 L136.00,262.12 L137.75,261.38 L139.50,260.61 L141.25,259.80 L143.00,258.95 L144.75,258.06 L146.50,257.13 L148.25,256.17 L150.00,255.17 L151.75,254.13 L153.50,253.05 L155.25,251.94 L157.00,250.80 L158.75,249.63 L160.50,248.42 L162.25,247.19 L164.00,245.94 L165.75,244.66 L167.50,243.36 L169.25,242.04 L171.00,240.71 L172.75,239.37 L174.50,238.02 L176.25,236.66 L178.00,235.31 L179.75,233.96 L181.50,232.62 L183.25,231.29 L185.00,229.98 L186.75,228.69 L188.50,227.43 L190.25,226.19 L192.00,224.99 L193.75,223.83 L195.50,222.71 L197.25,221.64 L199.00,220.62 L200.75,219.65 L202.50,218.74 L204.25,217.89 L206.00,217.10 L207.75,216.38 L209.50,215.73 L211.25,215.15 L213.00,214.65 L214.75,214.22 L216.50,213.87 L218.25,213.59 L220.00,213.39 L221.75,213.27 L223.50,213.22 L225.25,213.28 L227.00,213.56 L228.75,214.04 L230.50,214.73 L232.25,215.61 L234.00,216.68 L235.75,217.91 L237.50,219.30 L239.25,220.83 L241.00,222.49 L242.75,224.26 L244.50,226.12 L246.25,228.07 L248.00,230.07 L249.75,232.12 L251.50,234.20 L253.25,236.29 L255.00,238.39 L256.75,240.46 L258.50,242.51 L260.25,244.52 L262.00,246.48 L263.75,248.38 L265.50,250.22 L267.25,251.98 L269.00,253.66 L270.75,255.25 L272.50,256.76 L274.25,258.18 L276.00,259.52 L277.75,260.76 L279.50,261.91 L281.25,262.98 L283.00,263.97 L284.75,264.87 L286.50,265.69 L288.25,266.44 L290.00,267.12 L291.75,267.74 L293.50,268.29 L295.25,268.78 L297.00,269.22 L298.75,269.61 L300.50,269.96 L302.25,270.27 L304.00,270.53 L305.75,270.77 L307.50,270.97 L309.25,271.15 L311.00,271.31 L312.75,271.44 L314.50,271.56 L316.25,271.65 L318.00,271.74 L319.75,271.81 L321.50,271.87 L323.25,271.92 L325.00,271.97 L326.75,272.00 L328.50,272.04 L330.25,272.06 L332.00,272.08 L333.75,272.10 L335.50,272.12 L337.25,272.13 L339.00,272.14 L340.75,272.15 L342.50,272.16 L344.25,272.17 L346.00,272.17 L347.75,272.18 L349.50,272.18 L351.25,272.18 L353.00,272.19 L354.75,272.19 L356.50,272.19 L358.25,272.20 L360.00,272.20 L361.75,272.20 L363.50,272.20 L365.25,272.20 L367.00,272.21 L368.75,272.21 L370.50,272.21 L372.25,272.21 L374.00,272.21 L375.75,272.21 L377.50,272.22 L379.25,272.22 L381.00,272.22 L382.75,272.22 L384.50,272.22 L386.25,272.23 L388.00,272.23 L389.75,272.23 L391.50,272.23 L393.25,272.23 L395.00,272.23" fill="none" stroke="#808000" stroke-width="2.4" stroke-linejoin="round"/><rect x="45.0" y="25.0" width="350.0" height="257.0" fill="none" stroke="#000" stroke-width="2"/><line x1="40.5" y1="282.00" x2="45.0" y2="282.00" stroke="#000" stroke-width="2"/><line x1="42.5" y1="260.58" x2="45.0" y2="260.58" stroke="#000" stroke-width="2"/><line x1="40.5" y1="239.17" x2="45.0" y2="239.17" stroke="#000" stroke-width="2"/><line x1="42.5" y1="217.75" x2="45.0" y2="217.75" stroke="#000" stroke-width="2"/><line x1="40.5" y1="196.33" x2="45.0" y2="196.33" stroke="#000" stroke-width="2"/><line x1="42.5" y1="174.92" x2="45.0" y2="174.92" stroke="#000" stroke-width="2"/><line x1="40.5" y1="153.50" x2="45.0" y2="153.50" stroke="#000" stroke-width="2"/><line x1="42.5" y1="132.08" x2="45.0" y2="132.08" stroke="#000" stroke-width="2"/><line x1="40.5" y1="110.67" x2="45.0" y2="110.67" stroke="#000" stroke-width="2"/><line x1="42.5" y1="89.25" x2="45.0" y2="89.25" stroke="#000" stroke-width="2"/><line x1="40.5" y1="67.83" x2="45.0" y2="67.83" stroke="#000" stroke-width="2"/><line x1="42.5" y1="46.42" x2="45.0" y2="46.42" stroke="#000" stroke-width="2"/><line x1="40.5" y1="25.00" x2="45.0" y2="25.00" stroke="#000" stroke-width="2"/><line x1="45.00" y1="282.0" x2="45.00" y2="287.5" stroke="#000" stroke-width="2"/><line x1="88.75" y1="282.0" x2="88.75" y2="285.5" stroke="#000" stroke-width="2"/><line x1="132.50" y1="282.0" x2="132.50" y2="287.5" stroke="#000" stroke-width="2"/><line x1="176.25" y1="282.0" x2="176.25" y2="285.5" stroke="#000" stroke-width="2"/><line x1="220.00" y1="282.0" x2="220.00" y2="287.5" stroke="#000" stroke-width="2"/><line x1="263.75" y1="282.0" x2="263.75" y2="285.5" stroke="#000" stroke-width="2"/><line x1="307.50" y1="282.0" x2="307.50" y2="287.5" stroke="#000" stroke-width="2"/><line x1="351.25" y1="282.0" x2="351.25" y2="285.5" stroke="#000" stroke-width="2"/><line x1="395.00" y1="282.0" x2="395.00" y2="287.5" stroke="#000" stroke-width="2"/><rect x="442.0" y="25.0" width="349.0" height="258.0" fill="none" stroke="#000" stroke-width="2"/><line x1="436.2" y1="283.00" x2="442.0" y2="283.00" stroke="#000" stroke-width="2"/><line x1="438.8" y1="261.50" x2="442.0" y2="261.50" stroke="#000" stroke-width="2"/><line x1="436.2" y1="240.00" x2="442.0" y2="240.00" stroke="#000" stroke-width="2"/><line x1="438.8" y1="218.50" x2="442.0" y2="218.50" stroke="#000" stroke-width="2"/><line x1="436.2" y1="197.00" x2="442.0" y2="197.00" stroke="#000" stroke-width="2"/><line x1="438.8" y1="175.50" x2="442.0" y2="175.50" stroke="#000" stroke-width="2"/><line x1="436.2" y1="154.00" x2="442.0" y2="154.00" stroke="#000" stroke-width="2"/><line x1="438.8" y1="132.50" x2="442.0" y2="132.50" stroke="#000" stroke-width="2"/><line x1="436.2" y1="111.00" x2="442.0" y2="111.00" stroke="#000" stroke-width="2"/><line x1="438.8" y1="89.50" x2="442.0" y2="89.50" stroke="#000" stroke-width="2"/><line x1="436.2" y1="68.00" x2="442.0" y2="68.00" stroke="#000" stroke-width="2"/><line x1="438.8" y1="46.50" x2="442.0" y2="46.50" stroke="#000" stroke-width="2"/><line x1="436.2" y1="25.00" x2="442.0" y2="25.00" stroke="#000" stroke-width="2"/><line x1="442.00" y1="283.0" x2="442.00" y2="288.5" stroke="#000" stroke-width="2"/><line x1="480.78" y1="283.0" x2="480.78" y2="286.5" stroke="#000" stroke-width="2"/><line x1="519.56" y1="283.0" x2="519.56" y2="288.5" stroke="#000" stroke-width="2"/><line x1="558.33" y1="283.0" x2="558.33" y2="286.5" stroke="#000" stroke-width="2"/><line x1="597.11" y1="283.0" x2="597.11" y2="288.5" stroke="#000" stroke-width="2"/><line x1="635.89" y1="283.0" x2="635.89" y2="286.5" stroke="#000" stroke-width="2"/><line x1="674.67" y1="283.0" x2="674.67" y2="288.5" stroke="#000" stroke-width="2"/><line x1="713.44" y1="283.0" x2="713.44" y2="286.5" stroke="#000" stroke-width="2"/><line x1="752.22" y1="283.0" x2="752.22" y2="288.5" stroke="#000" stroke-width="2"/><line x1="791.00" y1="283.0" x2="791.00" y2="286.5" stroke="#000" stroke-width="2"/><line x1="449.76" y1="261.93" x2="449.76" y2="270.96" stroke="#000" stroke-width="1.5"/><line x1="447.16" y1="261.93" x2="452.36" y2="261.93" stroke="#000" stroke-width="1.6"/><line x1="447.16" y1="270.96" x2="452.36" y2="270.96" stroke="#000" stroke-width="1.6"/><rect x="447.26" y="263.84" width="5" height="5.2" fill="#000"/><line x1="473.02" y1="242.58" x2="473.02" y2="254.19" stroke="#000" stroke-width="1.5"/><line x1="470.42" y1="242.58" x2="475.62" y2="242.58" stroke="#000" stroke-width="1.6"/><line x1="470.42" y1="254.19" x2="475.62" y2="254.19" stroke="#000" stroke-width="1.6"/><rect x="470.52" y="245.78" width="5" height="5.2" fill="#000"/><line x1="519.56" y1="228.09" x2="519.56" y2="230.67" stroke="#000" stroke-width="1.5"/><line x1="516.96" y1="228.09" x2="522.16" y2="228.09" stroke="#000" stroke-width="1.6"/><line x1="516.96" y1="230.67" x2="522.16" y2="230.67" stroke="#000" stroke-width="1.6"/><rect x="517.06" y="226.78" width="5" height="5.2" fill="#000"/><line x1="597.11" y1="172.49" x2="597.11" y2="178.08" stroke="#000" stroke-width="1.5"/><line x1="594.51" y1="172.49" x2="599.71" y2="172.49" stroke="#000" stroke-width="1.6"/><line x1="594.51" y1="178.08" x2="599.71" y2="178.08" stroke="#000" stroke-width="1.6"/><rect x="594.61" y="172.68" width="5" height="5.2" fill="#000"/><line x1="674.67" y1="127.47" x2="674.67" y2="137.10" stroke="#000" stroke-width="1.5"/><line x1="672.07" y1="127.47" x2="677.27" y2="127.47" stroke="#000" stroke-width="1.6"/><line x1="672.07" y1="137.10" x2="677.27" y2="137.10" stroke="#000" stroke-width="1.6"/><rect x="672.17" y="129.69" width="5" height="5.2" fill="#000"/><line x1="752.22" y1="75.18" x2="752.22" y2="91.35" stroke="#000" stroke-width="1.5"/><line x1="749.62" y1="75.18" x2="754.82" y2="75.18" stroke="#000" stroke-width="1.6"/><line x1="749.62" y1="91.35" x2="754.82" y2="91.35" stroke="#000" stroke-width="1.6"/><rect x="749.72" y="80.67" width="5" height="5.2" fill="#000"/><line x1="442.00" y1="273.7" x2="783.2" y2="64.8" stroke="#ff0000" stroke-width="2.1"/><line x1="333" y1="34.00" x2="360" y2="34.00" stroke="#000000" stroke-width="2.2" stroke-linecap="round"/><line x1="333" y1="49.20" x2="360" y2="49.20" stroke="#ff0000" stroke-width="2.2" stroke-linecap="round"/><line x1="333" y1="65.20" x2="360" y2="65.20" stroke="#0000ff" stroke-width="2.2" stroke-linecap="round"/><line x1="333" y1="80.90" x2="360" y2="80.90" stroke="#008080" stroke-width="2.2" stroke-linecap="round"/><line x1="333" y1="97.00" x2="360" y2="97.00" stroke="#ff00ff" stroke-width="2.2" stroke-linecap="round"/><line x1="333" y1="112.30" x2="360" y2="112.30" stroke="#808000" stroke-width="2.2" stroke-linecap="round"/><g font-family="Liberation Serif" font-weight="bold" fill="#000" stroke="#000" stroke-width="0.25"><text x="36.70" y="284.90" font-size="11.6" text-anchor="end" >0.00</text><text x="36.70" y="242.07" font-size="11.6" text-anchor="end" >0.05</text><text x="36.70" y="199.23" font-size="11.6" text-anchor="end" >0.10</text><text x="36.70" y="156.40" font-size="11.6" text-anchor="end" >0.15</text><text x="36.70" y="113.57" font-size="11.6" text-anchor="end" >0.20</text><text x="36.70" y="70.73" font-size="11.6" text-anchor="end" >0.25</text><text x="36.70" y="27.90" font-size="11.6" text-anchor="end" >0.30</text><text x="45.00" y="299.20" font-size="12.7" text-anchor="middle" >400</text><text x="132.50" y="299.20" font-size="12.7" text-anchor="middle" >500</text><text x="220.00" y="299.20" font-size="12.7" text-anchor="middle" >600</text><text x="307.50" y="299.20" font-size="12.7" text-anchor="middle" >700</text><text x="395.00" y="299.20" font-size="12.7" text-anchor="middle" >800</text><text x="220.50" y="320.80" font-size="12.55" text-anchor="middle" >Wavelength (nm)</text><text transform="translate(9.9,148.6) rotate(-90) scale(1.22,1)" font-size="10.2" text-anchor="middle">Abs.</text><text transform="translate(60.5,17) scale(1.06,1)" font-size="23" text-anchor="middle">(A)</text><text transform="translate(461.4,17) scale(1.06,1)" font-size="23" text-anchor="middle">(B)</text><text x="363.20" y="37.70" font-size="12.3" text-anchor="start" >40&#956;M</text><text x="363.20" y="52.90" font-size="12.3" text-anchor="start" >30&#956;M</text><text x="363.20" y="68.90" font-size="12.3" text-anchor="start" >20&#956;M</text><text x="363.20" y="84.60" font-size="12.3" text-anchor="start" >10&#956;M</text><text x="363.20" y="100.70" font-size="12.3" text-anchor="start" >4&#956;M</text><text x="363.20" y="116.00" font-size="12.3" text-anchor="start" >1&#956;M</text><text x="433.20" y="285.40" font-size="11.3" text-anchor="end" >0.2</text><text x="433.20" y="242.40" font-size="11.3" text-anchor="end" >0.3</text><text x="433.20" y="199.40" font-size="11.3" text-anchor="end" >0.4</text><text x="433.20" y="156.40" font-size="11.3" text-anchor="end" >0.5</text><text x="433.20" y="113.40" font-size="11.3" text-anchor="end" >0.6</text><text x="433.20" y="70.40" font-size="11.3" text-anchor="end" >0.7</text><text x="433.20" y="27.40" font-size="11.3" text-anchor="end" >0.8</text><text x="442.00" y="299.80" font-size="11" text-anchor="middle" >0</text><text x="519.56" y="299.80" font-size="11" text-anchor="middle" >10</text><text x="597.11" y="299.80" font-size="11" text-anchor="middle" >20</text><text x="674.67" y="299.80" font-size="11" text-anchor="middle" >30</text><text x="752.22" y="299.80" font-size="11" text-anchor="middle" >40</text><text x="616.00" y="320.90" font-size="11.4" text-anchor="middle" >Pi ( &#956;M )</text><text transform="translate(412.6,154.2) rotate(-90) scale(1.12,1)" font-size="12" text-anchor="middle">I / I<tspan font-size="8" dy="5.2">0</tspan></text><text x="636.3" y="246.6" font-size="20.2">R</text><text x="650.0" y="240.4" font-size="12.6">2</text><text transform="translate(655.5,246.6) scale(1.18,1)" font-size="20.2" font-weight="normal">=</text><text x="668.4" y="246.6" font-size="20.2" textLength="45.6" lengthAdjust="spacingAndGlyphs">0.995</text><text x="635.6" y="271" font-size="20">10</text><text x="654.5" y="264.2" font-size="12.6">-6</text><text x="671.0" y="271" font-size="20">M~</text><text x="704.2" y="271" font-size="20">4</text><text x="719.6" y="274" font-size="24" text-anchor="middle" font-weight="normal">&#215;</text><text x="724.2" y="271" font-size="20">10</text><text x="745.0" y="264.2" font-size="12.6">-5</text><text x="759.6" y="271" font-size="20">M</text></g></svg></body></html>
